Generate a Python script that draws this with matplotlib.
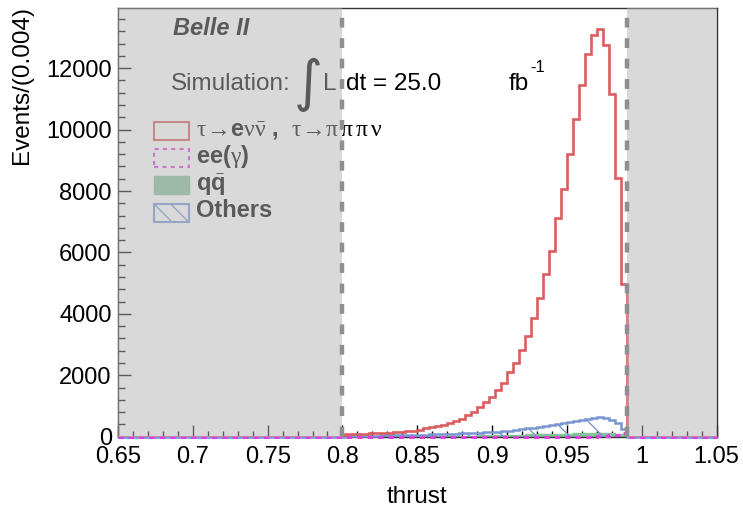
import numpy as np
import matplotlib
matplotlib.use("Agg")
import matplotlib.pyplot as plt
from matplotlib.patches import Rectangle
from matplotlib.ticker import MultipleLocator, FuncFormatter

plt.rcParams['font.family'] = ['Liberation Sans', 'DejaVu Sans']
plt.rcParams['mathtext.fontset'] = 'custom'
plt.rcParams['mathtext.rm'] = 'Liberation Serif'
plt.rcParams['mathtext.it'] = 'Liberation Serif'
plt.rcParams['mathtext.bf'] = 'Liberation Sans:bold'
plt.rcParams['mathtext.fallback'] = 'stix'
plt.rcParams['hatch.linewidth'] = 1.0

# ---- binning: 100 bins of 0.004 in thrust ----
x_lo, x_hi, bin_w = 0.65, 1.05, 0.004
first_bin = 38          # first filled bin starts at 0.802
cut_lo, cut_hi = 0.80, 0.99

# signal: tau -> e nu nubar , tau -> pi pi pi nu
sig_vals = [75, 82, 90, 97, 105, 113, 122, 132, 143, 156, 172, 192,
            225, 268, 306, 348, 381, 436, 511, 576, 707, 814, 977, 1140,
            1303, 1521, 1759, 2095, 2390, 2824, 3290, 3866, 4517, 5289,
            6048, 7133, 8068, 9198, 10357, 11445, 12455, 13093, 13279,
            12748, 11152, 8436, 4964]
# other backgrounds
oth_vals = [28, 30, 32, 34, 36, 39, 42, 45, 48, 51, 55, 59, 63, 68, 73,
            79, 85, 92, 99, 106, 114, 122, 130, 140, 152, 165, 180, 200,
            222, 245, 270, 296, 322, 350, 385, 420, 455, 490, 525, 555,
            585, 615, 640, 600, 545, 440, 240]
# q qbar continuum
qq_vals = [4, 5, 5, 6, 6, 7, 8, 9, 10, 11, 12, 13, 15, 17, 19, 21, 23, 26,
           29, 32, 35, 38, 42, 46, 50, 54, 58, 62, 66, 70, 74, 78, 82, 86,
           90, 94, 98, 102, 106, 110, 113, 116, 118, 118, 112, 100, 80]
# Bhabha ee(gamma)
ee_vals = [0] * 42 + [10, 20, 40, 60, 110]

n_bins = int(round((x_hi - x_lo) / bin_w))
edges = x_lo + bin_w * np.arange(n_bins + 1)


def full(vals):
    h = np.zeros(n_bins)
    h[first_bin:first_bin + len(vals)] = vals
    return h


sig = full(sig_vals)
oth = full(oth_vals)
qq = full(qq_vals)
ee = full(ee_vals)

c_red = '#d95f5f'
c_mag = '#e03ee0'
c_grn = '#84c29a'
c_blu = '#7896d2'

W, H = 743, 511
fig = plt.figure(figsize=(W / 100, H / 100), dpi=100)
ax = fig.add_axes([118 / W, 1 - 436.7 / H, 598.5 / W, 428.4 / H])


def fx(px):
    return px / W


def fy(py):
    return 1 - py / H


# histograms
ax.stairs(qq, edges, fill=True, facecolor=c_grn, edgecolor=c_grn,
          lw=1.0, zorder=2)
ax.stairs(oth, edges, fill=True, facecolor='none', edgecolor=c_blu,
          hatch='\\', lw=0, zorder=3)
ax.stairs(oth, edges, color=c_blu, lw=1.8, zorder=3.2, clip_on=False)
ax.stairs(sig, edges, color=c_red, lw=1.9, zorder=4, baseline=None)
ax.stairs(ee, edges, color=c_mag, lw=2.2, linestyle=(0, (1.7, 1.7)),
          zorder=4.5, clip_on=False)

ax.set_xlim(x_lo, x_hi)
ax.set_ylim(0, 13950)

# rejected regions, shaded on top
ov = '#b4b4b4'
ax.axvspan(x_lo, cut_lo, color=ov, alpha=0.5, lw=0, zorder=10)
ax.axvspan(cut_hi, x_hi, color=ov, alpha=0.5, lw=0, zorder=10)
for xc in (cut_lo, cut_hi):
    ax.plot([xc, xc], [1, 0], transform=ax.get_xaxis_transform(),
            color='#8f8f8f', lw=3.2, linestyle=(2.4, (2.2, 2.4)),
            solid_capstyle='butt', zorder=11, clip_on=False)

# axes styling
ax.xaxis.set_major_locator(MultipleLocator(0.05))
ax.xaxis.set_minor_locator(MultipleLocator(0.01))
ax.yaxis.set_major_locator(MultipleLocator(2000))
ax.yaxis.set_minor_locator(MultipleLocator(400))
ax.xaxis.set_major_formatter(FuncFormatter(lambda v, p: f"{v:g}"))
ax.tick_params(which='both', direction='in', top=False, right=False,
               labelsize=17, width=1)
ax.tick_params(axis='y', which='major', length=9.5, pad=4.5)
ax.tick_params(axis='y', which='minor', length=5)
ax.tick_params(axis='x', which='major', length=8.6, pad=7)
ax.tick_params(axis='x', which='minor', length=4.3)
for s in ax.spines.values():
    s.set_linewidth(1.0)
    s.set_color('#333333')

fig.text(fx(417), fy(497), 'thrust', ha='center', va='center', fontsize=17.5)
fig.text(fx(22), fy(6), 'Events/(0.004)', rotation=90, ha='center',
         va='top', fontsize=17.5)

# labels inside the frame (under the shading)
tkw = dict(transform=fig.transFigure, zorder=5, va='baseline')
ax.text(fx(173), fy(35), 'Belle II', fontsize=17, fontweight='bold',
        fontstyle='italic', **tkw)
ax.text(fx(171), fy(90), 'Simulation:', fontsize=17.5, **tkw)
ax.text(fx(308), fy(85), '\u222b', fontsize=40, ha='center', va='center',
        family='DejaVu Sans', transform=fig.transFigure, zorder=5)
ax.text(fx(323), fy(90), 'L', fontsize=17.5, **tkw)
ax.text(fx(346), fy(90), 'dt = 25.0', fontsize=17.5, **tkw)
ax.text(fx(529), fy(90), 'fb', fontsize=17.5, ha='right',
        transform=fig.transFigure, zorder=5, va='baseline')
ax.text(fx(530), fy(72), '-1', fontsize=12, **tkw)

# legend
box_x0, box_w, box_h = 154, 35, 18
rows = [
    (r"$\tau\!\rightarrow\!\mathbf{e}\nu\bar{\nu}$ ,  "
     r"$\tau\!\rightarrow\!\pi\,\pi\,\pi\,\nu$",
     dict(facecolor='none', edgecolor=c_red, lw=1.5), 140, 137),
    (r"ee($\gamma$)",
     dict(facecolor='none', edgecolor=c_mag, lw=1.5, linestyle=(0, (2, 2))),
     167, 163),
    (r"q$\bar{\mathbf{q}}$",
     dict(facecolor=c_grn, edgecolor=c_grn, lw=1.0), 194, 191),
    ("Others",
     dict(facecolor='none', edgecolor=c_blu, lw=1.5, hatch='\\\\'), 222, 217),
]
for label, style, box_bottom, base in rows:
    r = Rectangle((fx(box_x0), fy(box_bottom)), box_w / W, box_h / H,
                  transform=fig.transFigure, zorder=5, **style)
    ax.add_artist(r)
    ax.text(fx(196), fy(base), label, fontsize=17, fontweight='bold', **tkw)

fig.savefig('out.png', dpi=100)
